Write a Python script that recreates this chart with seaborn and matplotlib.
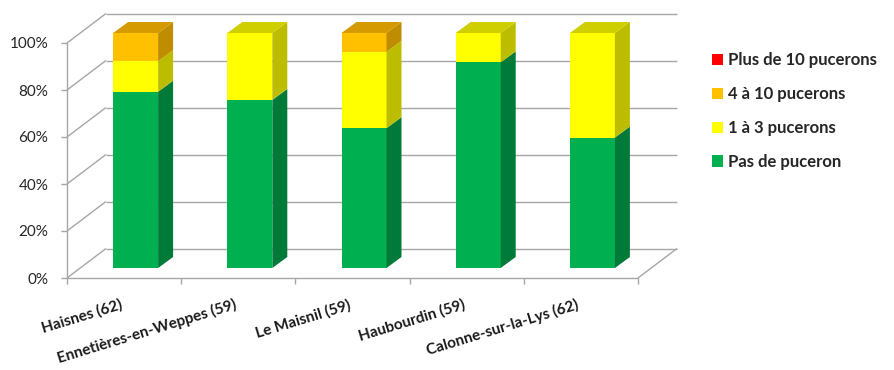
import matplotlib
matplotlib.use("Agg")
import matplotlib.pyplot as plt
import seaborn as sns
import numpy as np
from matplotlib.patches import Polygon, Patch

# ---------------- data ----------------
sites = ["Haisnes (62)", "Ennetières-en-Weppes (59)", "Le Maisnil (59)",
         "Haubourdin (59)", "Calonne-sur-la-Lys (62)"]
pas_de_puceron = [75.0, 71.5, 59.5, 87.5, 55.5]
un_a_trois = [13.0, 28.5, 32.5, 12.5, 44.5]
quatre_a_dix = [12.0, 0.0, 8.0, 0.0, 0.0]
plus_de_dix = [0.0, 0.0, 0.0, 0.0, 0.0]
series_labels = ["Pas de puceron", "1 à 3 pucerons", "4 à 10 pucerons", "Plus de 10 pucerons"]
yticks = [0, 20, 40, 60, 80, 100]
ytick_labels = ["0%", "20%", "40%", "60%", "80%", "100%"]

# ---------------- style ----------------
front_colors = ["#00B050", "#FFFF00", "#FFC000", "#FF0000"]
side_colors = ["#007A38", "#BDBD00", "#C08C00", "#B00000"]
top_colors = ["#009040", "#CFCF00", "#D49A00", "#C80000"]
grid_color = "#A6A6A6"

sns.set_style("white")
plt.rcParams["font.family"] = ["Lato", "DejaVu Sans"]

fig = plt.figure(figsize=(8.95, 3.7), dpi=100)
ax = fig.add_axes([67 / 895, (370 - 278) / 370, 571 / 895, 235 / 370])

PXX = 571 / 5.0   # pixels per x unit
PXY = 235 / 100.0  # pixels per y unit
def ux(px):
    return px / PXX
def uy(px):
    return px / PXY

BX, BY = ux(39), uy(29.5)    # full depth of the 3D box
OX, OY = ux(11.5), uy(10)    # front face of bars
DX, DY = ux(15), uy(11)      # depth of bars
W = 45 / PXX

values = np.array([pas_de_puceron, un_a_trois, quatre_a_dix, plus_de_dix])
cum = values.cumsum(axis=0)

# stacked front faces via seaborn (largest cumulative first)
for k in reversed(range(len(series_labels))):
    sns.barplot(x=sites, y=cum[k], color=front_colors[k], width=W, ax=ax,
                saturation=1, linewidth=0, order=sites)

for p in ax.patches:
    p.set_x(p.get_x() + OX)
    p.set_y(p.get_y() + OY)
    p.set_clip_on(False)
    p.set_zorder(3)

# side and top faces from the data
for i in range(len(sites)):
    x1 = i + W / 2 + OX
    x0 = i - W / 2 + OX
    prev = 0.0
    top_k = None
    for k in range(len(series_labels)):
        y0, y1 = prev, cum[k][i]
        if y1 > y0:
            ax.add_patch(Polygon([(x1, y0 + OY), (x1, y1 + OY),
                                  (x1 + DX, y1 + OY + DY), (x1 + DX, y0 + OY + DY)],
                                 closed=True, facecolor=side_colors[k], edgecolor="none",
                                 zorder=3, clip_on=False))
            top_k = k
        prev = y1
    t = cum[-1][i] + OY
    ax.add_patch(Polygon([(x0, t), (x1, t), (x1 + DX, t + DY), (x0 + DX, t + DY)],
                         closed=True, facecolor=top_colors[top_k], edgecolor="none",
                         zorder=3, clip_on=False))

# 3D frame: back wall gridlines, side wall diagonals, floor
kw = dict(color=grid_color, lw=1.0, clip_on=False, zorder=1, solid_capstyle="butt")
for v in yticks:
    ax.plot([-0.5 + BX, 4.5 + BX], [v + BY, v + BY], **kw)
    ax.plot([-0.5, -0.5 + BX], [v, v + BY], **kw)
ax.plot([-0.5, -0.5], [0, 100], **kw)
ax.plot([-0.5, 4.5], [0, 0], **kw)
ax.plot([4.5, 4.5 + BX], [0, BY], **kw)

ax.set_xlim(-0.5, 4.5)
ax.set_ylim(0, 100)
for s in ax.spines.values():
    s.set_visible(False)

ax.set_yticks(yticks)
ax.set_yticklabels(ytick_labels, fontsize=11, color="#262626")
ax.tick_params(axis="y", left=True, length=4, width=1, color=grid_color, pad=9.4)

ax.set_xticks(range(len(sites)))
ax.set_xticklabels(sites, rotation=17, ha="right", fontsize=11, fontweight="bold",
                   color="#1a1a1a")
ax.tick_params(axis="x", which="major", length=0, pad=14.0)
ax.set_xticks(np.arange(-0.5, len(sites), 1.0), minor=True)
ax.tick_params(axis="x", which="minor", bottom=True, length=4, width=1, color=grid_color)
ax.set_xlabel("")
ax.set_ylabel("")

handles = [Patch(facecolor=front_colors[k], edgecolor="none", label=series_labels[k])
           for k in reversed(range(len(series_labels)))]
fig.legend(handles=handles, loc="upper left", bbox_to_anchor=(712 / 895, (370 - 52.4) / 370),
           frameon=False, borderpad=0, borderaxespad=0, handlelength=0.66,
           handleheight=0.66, handletextpad=0.3, labelspacing=1.07,
           prop={"family": ["Lato", "DejaVu Sans"], "weight": "bold", "size": 12})

fig.savefig("out.png", dpi=100, facecolor="white")
